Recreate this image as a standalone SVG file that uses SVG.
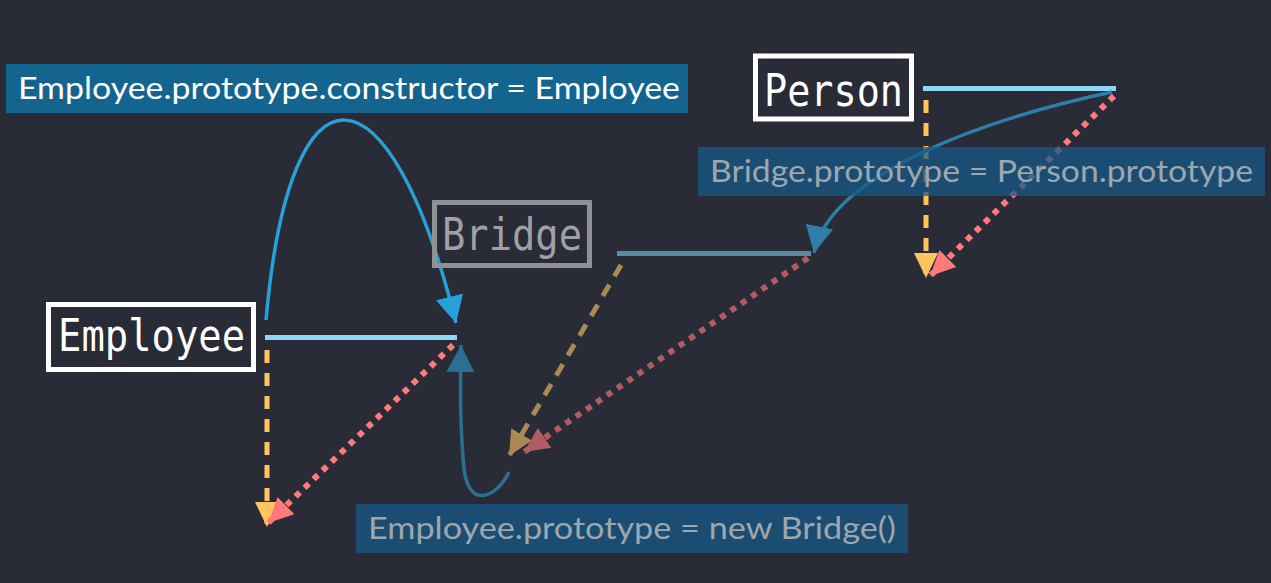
<svg xmlns="http://www.w3.org/2000/svg" width="1271" height="583" viewBox="0 0 1271 583">
<defs>
<style>
.lbl{font-family:"Lato","Noto Sans","Liberation Sans",sans-serif;font-size:30px}
.mono{font-family:"DejaVu Sans Mono","Liberation Mono",monospace;font-size:44px}
.hl{stroke-width:5;fill:none}
.yd{stroke-width:5;stroke-dasharray:13 10;fill:none}
.rd{stroke-width:6;stroke-dasharray:6 6.5;fill:none}
</style>
<marker id="ay" markerUnits="userSpaceOnUse" markerWidth="26" markerHeight="26" viewBox="0 0 26 26" refX="25" refY="13" orient="auto"><path d="M0,1 L25,13 L0,25 z" fill="#ffc45e"/></marker>
<marker id="ar" markerUnits="userSpaceOnUse" markerWidth="26" markerHeight="26" viewBox="0 0 26 26" refX="25" refY="13" orient="auto"><path d="M0,1 L25,13 L0,25 z" fill="#ff7b7b"/></marker>
<marker id="ayd" markerUnits="userSpaceOnUse" markerWidth="26" markerHeight="26" viewBox="0 0 26 26" refX="25" refY="13" orient="auto"><path d="M0,1 L25,13 L0,25 z" fill="#a88a52"/></marker>
<marker id="ard" markerUnits="userSpaceOnUse" markerWidth="26" markerHeight="26" viewBox="0 0 26 26" refX="25" refY="13" orient="auto"><path d="M0,1 L25,13 L0,25 z" fill="#b05c62"/></marker>
<marker id="ab1" markerUnits="userSpaceOnUse" markerWidth="28" markerHeight="30" viewBox="0 0 28 30" refX="27" refY="15" orient="auto"><path d="M0,1 L27,15 L0,29 z" fill="#28a0d8"/></marker>
<marker id="ab2" markerUnits="userSpaceOnUse" markerWidth="28" markerHeight="30" viewBox="0 0 28 30" refX="27" refY="15" orient="auto"><path d="M0,1 L27,15 L0,29 z" fill="#2d7ea8"/></marker>
<marker id="ab3" markerUnits="userSpaceOnUse" markerWidth="28" markerHeight="30" viewBox="0 0 28 30" refX="27" refY="15" orient="auto"><path d="M0,1 L27,15 L0,29 z" fill="#2b6f92"/></marker>
</defs>
<rect width="1271" height="583" fill="#292b37"/>

<g id="connectors">
<line class="hl" x1="265" y1="337.5" x2="457" y2="337.5" stroke="#8ed6f5"/>
<line class="hl" x1="923" y1="88.5" x2="1116" y2="88.5" stroke="#8ed6f5"/>
<line class="hl" x1="617" y1="253.5" x2="811" y2="253.5" stroke="#5b8ba3"/>
<path class="yd" d="M267,350 L267,527" stroke="#ffc45e" marker-end="url(#ay)"/>
<path class="rd" d="M453,345 L268,523" stroke="#ff7b7b" marker-end="url(#ar)"/>
<path class="yd" d="M926,100 L926,278" stroke="#ffc45e" marker-end="url(#ay)"/>
<path class="rd" d="M1114,96 L930,276" stroke="#ff7b7b" marker-end="url(#ar)"/>
<path class="yd" d="M621,265 L509,456" stroke="#a88a52" marker-end="url(#ayd)"/>
<path class="rd" d="M808,258 L524,452" stroke="#b05c62" marker-end="url(#ard)"/>
<path d="M266,320 C290,48 390,58 456,323" fill="none" stroke="#28a0d8" stroke-width="3.5" marker-end="url(#ab1)"/>
<path d="M1112,92 C980,120 830,175 814,253" fill="none" stroke="#2d7ea8" stroke-width="3.5" marker-end="url(#ab2)"/>
<path d="M509,472 C495,500 468,508 464,468 C460,430 460,390 461,345" fill="none" stroke="#2b6f92" stroke-width="3.5" marker-end="url(#ab3)"/>
</g>

<g id="label-constructor">
<rect x="6" y="64" width="682" height="49" fill="#13648f"/>
<text class="lbl" x="18" y="99" fill="#ffffff" textLength="662" lengthAdjust="spacingAndGlyphs">Employee.prototype.constructor = Employee</text>
</g>

<g id="node-person">
<rect x="755.5" y="56" width="156" height="63" fill="#292b37" stroke="#ffffff" stroke-width="5"/>
<text class="mono" x="764" y="106" fill="#ffffff" textLength="139" lengthAdjust="spacingAndGlyphs">Person</text>
</g>

<g id="node-bridge">
<rect x="434.5" y="202.5" width="155" height="63" fill="none" stroke="#909097" stroke-width="5"/>
<text class="mono" x="442" y="250" fill="#a0a0a6" textLength="140" lengthAdjust="spacingAndGlyphs">Bridge</text>
</g>

<g id="node-employee">
<rect x="48.5" y="304.5" width="205" height="65" fill="#292b37" stroke="#ffffff" stroke-width="5"/>
<text class="mono" x="58" y="351" fill="#ffffff" textLength="187" lengthAdjust="spacingAndGlyphs">Employee</text>
</g>

<g id="label-bridge-proto">
<rect x="698" y="147" width="567" height="49" fill="#155a85" fill-opacity="0.75"/>
<text class="lbl" x="710" y="182" fill="#9ea6ae" textLength="543" lengthAdjust="spacingAndGlyphs">Bridge.prototype = Person.prototype</text>
</g>

<g id="label-employee-proto">
<rect x="356" y="504" width="552" height="49" fill="#155a85" fill-opacity="0.75"/>
<text class="lbl" x="368" y="539" fill="#9ea6ae" textLength="528" lengthAdjust="spacingAndGlyphs">Employee.prototype = new Bridge()</text>
</g>
</svg>
